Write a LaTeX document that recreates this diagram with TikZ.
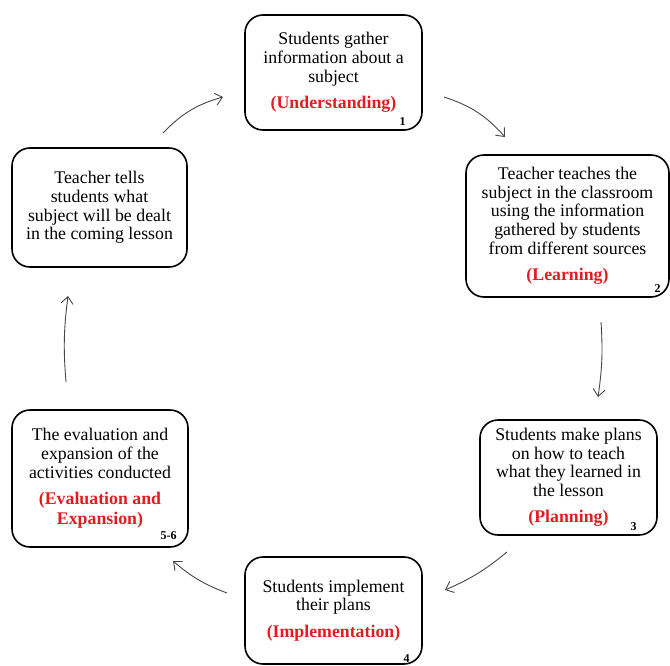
\documentclass[tikz,border=0pt]{standalone}
\usepackage{fontspec}
\setmainfont{Liberation Serif}
\usetikzlibrary{positioning,arrows.meta}
\definecolor{labelred}{RGB}{226,28,33}
\definecolor{arrowgray}{RGB}{70,70,70}
\newcommand{\redlabel}[1]{{\color{labelred}\bfseries #1}}

\begin{document}
\begin{tikzpicture}[
    x=1pt,y=-1pt,
    stagebox/.style={rectangle,draw,line width=1.6pt,rounded corners=18pt,inner sep=0pt},
    stagetext/.style={align=center,font=\fontsize{17.8}{18.6}\selectfont},
    stagenum/.style={font=\fontsize{12}{13}\selectfont\bfseries,inner sep=0pt},
    cyclearrow/.style={draw=arrowgray,line width=0.9pt,-{Straight Barb[length=7pt,width=12pt]},bend left=15}
    ]

    \useasboundingbox (0,0) rectangle (670,666);

    \node(und) [stagebox,minimum width=177pt,minimum height=115pt] at (333.5,72.5) {};
    \node(und_text) [stagetext] at (und.center) {
      Students gather\\
      information about a\\
      subject\\[8pt]
      \redlabel{(Understanding)}
    };
    \node(und_num) [stagenum,above left=5pt and 17pt] at (und.south east) {1};

    \node(lrn) [stagebox,minimum width=203pt,minimum height=142pt] at (567.5,226) {};
    \node(lrn_text) [stagetext] at (lrn.center) {
      Teacher teaches the\\
      subject in the classroom\\
      using the information\\
      gathered by students\\
      from different sources\\[8pt]
      \redlabel{(Learning)}
    };
    \node(lrn_num) [stagenum,above left=5pt and 9pt] at (lrn.south east) {2};

    \node(pln) [stagebox,minimum width=177pt,minimum height=115pt] at (568.5,477.5) {};
    \node(pln_text) [stagetext] at (pln.center) {
      Students make plans\\
      on how to teach\\
      what they learned in\\
      the lesson\\[8pt]
      \redlabel{(Planning)}
    };
    \node(pln_num) [stagenum,above left=5pt and 21pt] at (pln.south east) {3};

    \node(imp) [stagebox,minimum width=177pt,minimum height=107pt] at (333.5,610.5) {};
    \node(imp_text) [stagetext] at (imp.center) {
      Students implement\\
      their plans\\[8pt]
      \redlabel{(Implementation)}
    };
    \node(imp_num) [stagenum,above left=2pt and 13pt] at (imp.south east) {4};

    \node(eva) [stagebox,minimum width=176pt,minimum height=137pt] at (100,478.5) {};
    \node(eva_text) [stagetext] at (eva.center) {
      The evaluation and\\
      expansion of the\\
      activities conducted\\[8pt]
      \redlabel{(Evaluation and}\\[1.5pt]
      \redlabel{Expansion)}
    };
    \node(eva_num) [stagenum,above left=8pt and 12pt] at (eva.south east) {5-6};

    \node(int) [stagebox,minimum width=175pt,minimum height=119pt] at (99.5,207.5) {};
    \node(int_text) [stagetext] at (int.center) {
      Teacher tells\\
      students what\\
      subject will be dealt\\
      in the coming lesson
    };

    % arrow ends between the boxes
    \coordinate(und_lrn_a) at (444,97);
    \coordinate(und_lrn_b) at (505,137);
    \coordinate(lrn_pln_a) at (601,322);
    \coordinate(lrn_pln_b) at (598,397);
    \coordinate(pln_imp_a) at (507,552);
    \coordinate(pln_imp_b) at (445,590);
    \coordinate(imp_eva_a) at (227,593);
    \coordinate(imp_eva_b) at (173,561);
    \coordinate(eva_int_a) at (66,382);
    \coordinate(eva_int_b) at (68,296);
    \coordinate(int_und_a) at (163,133);
    \coordinate(int_und_b) at (223,97);

    \draw[cyclearrow] (und_lrn_a) to (und_lrn_b);
    \draw[cyclearrow,bend left=6] (lrn_pln_a) to (lrn_pln_b);
    \draw[cyclearrow,bend left=8] (pln_imp_a) to (pln_imp_b);
    \draw[cyclearrow,bend left=10] (imp_eva_a) to (imp_eva_b);
    \draw[cyclearrow,bend left=6] (eva_int_a) to (eva_int_b);
    \draw[cyclearrow] (int_und_a) to (int_und_b);

  \end{tikzpicture}
\end{document}
